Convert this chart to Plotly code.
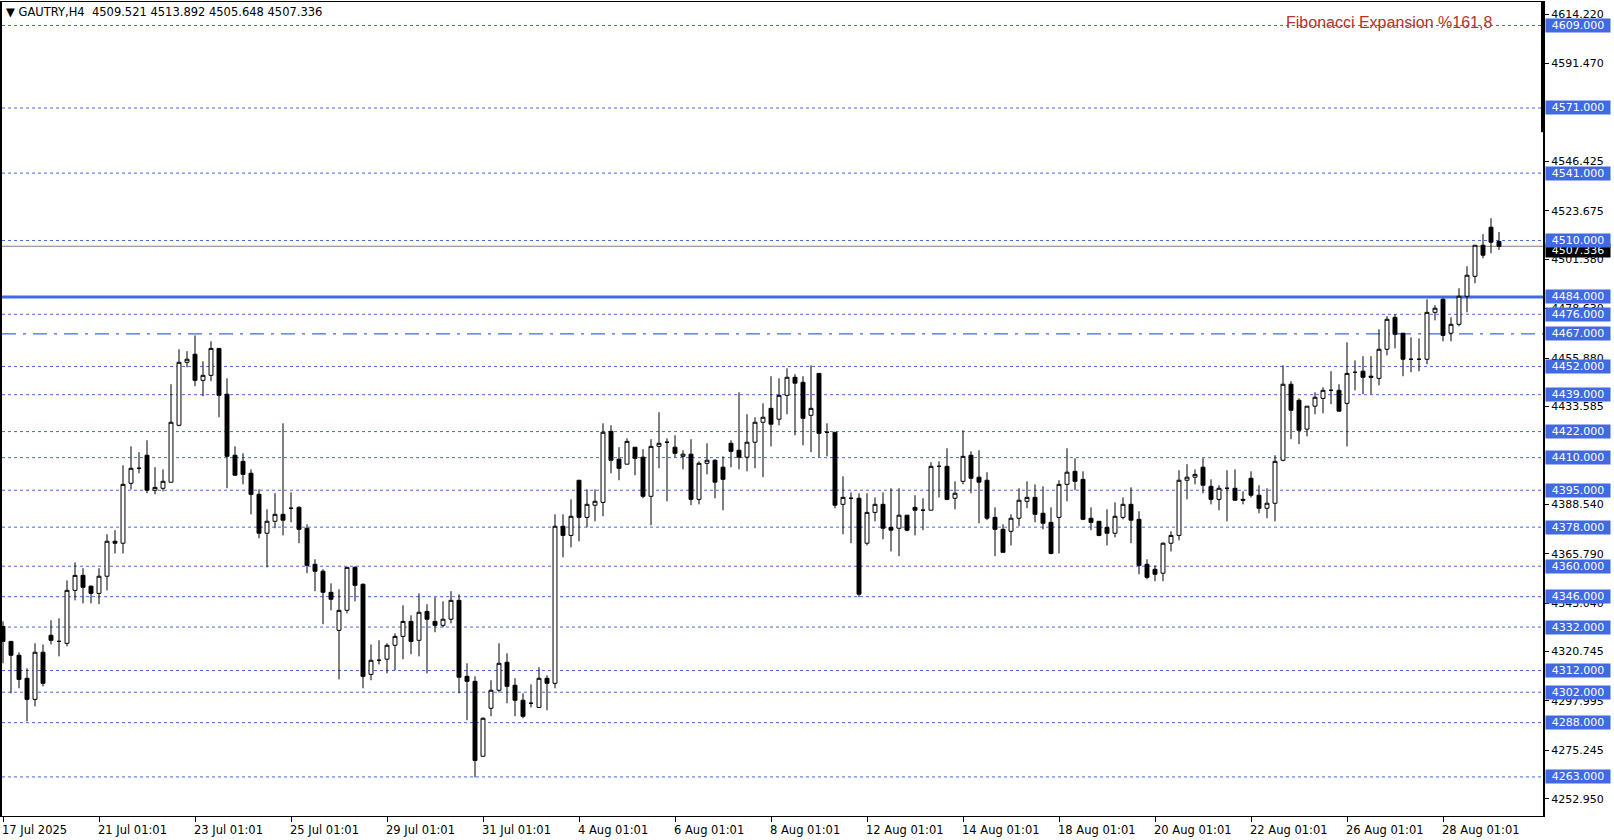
import plotly.graph_objects as go

symbol = "GAUTRY,H4"
opens = [4332.3,4325.4,4319.0,4308.4,4298.7,4320.4,4328.2,4325.4,4324.5,4348.9,4355.8,4350.8,4347.5,4355.4,4371.5,4370.6,4398.2,4405.1,4411.1,4395.0,
4395.9,4398.7,4424.9,4453.9,4457.6,4445.6,4447.9,4460.3,4439.2,4411.1,4408.3,4402.8,4393.1,4375.2,4380.7,4383.9,4386.7,4387.1,4377.5,4360.9,
4357.7,4348.0,4330.5,4339.7,4359.5,4351.7,4310.2,4316.7,4317.2,4323.6,4327.7,4334.6,4325.9,4339.2,4334.6,4332.8,4335.6,4344.3,4309.3,4307.0,
4272.5,4294.6,4302.9,4315.8,4305.2,4298.3,4296.9,4295.0,4308.4,4306.1,4378.4,4374.2,4399.6,4382.5,4388.1,4389.4,4422.1,4409.3,4407.0,4414.8,
4410.2,4392.2,4415.2,4417.1,4414.8,4410.6,4411.6,4390.8,4407.4,4408.8,4405.6,4416.6,4413.4,4410.2,4417.1,4426.3,4432.7,4427.7,4438.7,4447.0,
4444.7,4429.5,4448.8,4421.7,4421.7,4388.5,4391.3,4391.3,4370.6,4384.8,4388.5,4377.9,4377.5,4383.5,4387.1,4385.8,4385.8,4406.0,4406.0,4391.3,
4399.1,4411.1,4401.0,4399.6,4382.5,4377.0,4376.1,4382.1,4389.9,4391.7,4384.4,4380.2,4382.5,4397.7,4403.7,4400.0,4382.1,4380.7,4377.9,4375.2,
4382.5,4388.5,4381.6,4360.9,4358.6,4356.8,4370.6,4374.2,4399.6,4401.0,4405.6,4396.8,4390.8,4395.9,4395.9,4390.8,4400.5,4392.7,4386.7,4389.0,
4408.8,4443.8,4436.4,4423.1,4433.7,4437.3,4441.0,4441.0,4435.0,4449.3,4449.8,4447.5,4446.5,4459.9,4474.6,4467.3,4455.3,4455.3,4455.3,4476.9,
4482.9,4467.3,4471.4,4484.3,4493.5,4507.8,4516.1,4509.521]
highs = [4334.6,4325.4,4320.4,4313.0,4324.5,4324.0,4335.1,4336.0,4353.5,4361.8,4359.1,4351.2,4359.1,4374.7,4376.6,4406.5,4415.2,4412.5,4418.0,4405.6,
4404.6,4443.8,4459.9,4459.0,4466.3,4454.4,4463.6,4460.3,4446.5,4415.2,4412.0,4404.6,4395.4,4386.2,4393.6,4425.8,4394.0,4387.6,4379.3,4363.2,
4358.6,4352.1,4349.4,4359.5,4360.0,4352.1,4324.0,4325.9,4324.5,4329.1,4342.0,4337.4,4347.5,4342.5,4345.7,4343.85,4348.5,4347.1,4315.3,4309.3,
4290.4,4307.5,4324.5,4319.9,4308.4,4301.5,4305.6,4313.5,4309.8,4383.9,4383.9,4390.8,4399.6,4395.4,4395.4,4425.8,4424.9,4414.8,4418.9,4414.8,
4413.9,4418.5,4430.9,4418.9,4420.3,4413.4,4418.5,4408.3,4416.6,4409.3,4410.6,4418.0,4440.1,4430.0,4428.6,4435.0,4447.5,4446.5,4451.1,4448.4,
4447.5,4452.5,4448.8,4425.8,4421.7,4401.4,4394.0,4393.6,4393.6,4391.7,4394.0,4395.9,4395.9,4383.5,4392.7,4391.3,4407.9,4408.3,4414.3,4399.1,
4422.6,4412.9,4413.4,4403.3,4387.1,4379.3,4383.9,4395.9,4399.1,4397.7,4396.8,4387.1,4399.6,4414.3,4409.7,4403.7,4387.1,4380.7,4386.2,4389.4,
4391.7,4396.3,4385.3,4363.2,4360.4,4371.0,4376.1,4404.2,4407.0,4404.6,4409.7,4400.0,4397.3,4404.2,4404.6,4394.5,4403.7,4397.3,4395.9,4411.1,
4452.5,4445.2,4437.3,4433.7,4440.1,4442.4,4449.8,4443.8,4463.1,4454.8,4456.7,4456.7,4469.1,4475.1,4476.0,4467.3,4465.4,4464.9,4482.9,4480.2,
4483.4,4474.6,4488.0,4498.1,4507.8,4512.9,4520.2,4513.892]
lows = [4315.3,4301.5,4303.8,4288.6,4295.5,4304.7,4324.0,4318.5,4323.1,4344.3,4342.9,4342.9,4342.5,4348.9,4365.9,4365.9,4395.4,4402.8,4393.6,4393.1,
4394.5,4398.7,4424.4,4451.6,4442.9,4438.3,4445.2,4428.6,4395.9,4401.9,4397.7,4383.9,4372.9,4359.5,4377.5,4374.2,4380.2,4370.6,4356.8,4348.5,
4333.3,4339.7,4307.9,4338.3,4343.85,4303.8,4307.5,4314.8,4310.7,4312.1,4317.2,4319.5,4318.5,4310.7,4329.6,4331.9,4333.7,4301.5,4289.1,4262.8,
4272.5,4290.9,4301.9,4296.9,4290.9,4290.0,4295.0,4295.0,4293.7,4303.8,4364.1,4368.7,4371.5,4377.9,4380.7,4383.0,4402.8,4399.6,4407.0,4401.9,
4391.3,4378.9,4405.1,4389.9,4410.2,4404.6,4388.1,4388.5,4402.3,4391.3,4385.8,4405.6,4404.6,4403.7,4405.1,4401.0,4415.2,4424.9,4430.0,4420.3,
4415.7,4412.5,4410.2,4410.6,4386.7,4374.7,4370.6,4345.7,4369.6,4380.7,4372.4,4366.8,4364.6,4376.1,4374.2,4376.6,4385.8,4391.7,4390.4,4386.2,
4397.7,4393.6,4379.8,4381.2,4364.6,4366.4,4369.6,4378.4,4386.7,4380.2,4377.0,4365.5,4365.9,4389.9,4395.0,4381.2,4376.6,4373.8,4369.6,4373.3,
4381.6,4370.6,4356.3,4354.0,4353.1,4353.1,4366.8,4371.9,4390.8,4397.7,4393.6,4388.5,4385.8,4380.7,4390.4,4388.5,4391.7,4384.4,4382.1,4380.7,
4408.3,4418.5,4416.2,4419.8,4430.0,4430.4,4434.6,4431.4,4415.2,4441.0,4439.2,4439.2,4443.3,4457.1,4460.3,4447.5,4449.3,4449.8,4453.0,4473.2,
4463.6,4463.6,4470.5,4476.9,4490.3,4501.8,4504.1,4505.648]
closes = [4325.4,4319.0,4307.9,4298.7,4320.4,4306.1,4325.9,4325.4,4348.9,4355.8,4350.3,4347.5,4355.4,4371.5,4370.6,4397.7,4405.1,4405.1,4395.0,4396.3,
4399.1,4426.3,4453.9,4455.3,4445.6,4447.9,4460.3,4438.7,4410.6,4401.9,4402.3,4393.1,4375.2,4380.7,4383.9,4381.2,4386.7,4377.0,4360.4,4357.7,
4348.0,4344.8,4339.7,4359.5,4351.2,4309.3,4316.7,4316.7,4323.6,4327.7,4334.6,4325.4,4338.8,4335.6,4332.8,4335.6,4344.3,4308.9,4307.0,4270.6,
4290.0,4302.9,4315.3,4304.7,4298.3,4290.9,4296.9,4308.4,4306.1,4378.4,4374.2,4383.0,4382.5,4388.5,4389.9,4421.7,4408.8,4405.1,4417.5,4409.7,
4392.2,4415.2,4416.6,4417.1,4412.0,4411.6,4390.8,4407.4,4408.8,4398.7,4400.0,4412.9,4410.2,4417.1,4426.3,4428.6,4425.4,4438.7,4447.0,4444.3,
4428.1,4432.7,4421.2,4421.7,4388.1,4391.7,4391.3,4347.1,4384.8,4388.5,4377.5,4376.6,4383.5,4376.6,4385.8,4385.8,4406.0,4406.0,4390.8,4393.6,
4410.6,4400.5,4398.7,4382.1,4377.0,4366.4,4382.1,4390.4,4391.7,4383.9,4379.8,4365.9,4397.7,4403.3,4399.1,4381.6,4380.2,4374.2,4375.2,4383.0,
4388.5,4381.2,4360.4,4354.9,4356.3,4370.6,4374.2,4399.6,4401.0,4402.3,4397.3,4390.8,4395.9,4395.9,4390.4,4390.4,4392.7,4386.7,4389.0,4408.3,
4443.8,4431.8,4422.6,4433.7,4437.8,4441.0,4441.0,4431.4,4448.8,4449.3,4447.0,4447.0,4459.9,4473.7,4466.8,4455.3,4455.3,4455.3,4476.9,4478.8,
4466.3,4471.4,4484.3,4494.0,4507.8,4503.2,4509.2,4507.336]

date_labels = ["17 Jul 2025","21 Jul 01:01","23 Jul 01:01","25 Jul 01:01","29 Jul 01:01","31 Jul 01:01",
               "4 Aug 01:01","6 Aug 01:01","8 Aug 01:01","12 Aug 01:01","14 Aug 01:01","18 Aug 01:01",
               "20 Aug 01:01","22 Aug 01:01","26 Aug 01:01","28 Aug 01:01"]
label_step = 12
dashed_levels = [4609,4571,4541,4510,4476,4452,4439,4422,4410,4395,4378,4360,4346,4332,4312,4302,4288,4263]
solid_level = 4484
dashdot_level = 4467
axis_ticks = [4614.220,4591.470,4546.425,4523.675,4501.380,4478.630,4455.880,4433.585,4388.540,4365.790,4343.040,4320.745,4297.995,4275.245,4252.950]
fib_text = "Fibonacci Expansion %161,8"

n = len(closes)
idx = list(range(n))
BLUE = "#4169E1"
FONT = "DejaVu Sans"
Y_RANGE = [4245.0, 4619.8]

fig = go.Figure(go.Candlestick(
    x=idx, open=opens, high=highs, low=lows, close=closes,
    increasing=dict(line=dict(color="black", width=1), fillcolor="white"),
    decreasing=dict(line=dict(color="black", width=1), fillcolor="black"),
    whiskerwidth=0, showlegend=False, hoverinfo="skip"))

shapes = []
for lv in dashed_levels:
    shapes.append(dict(type="line", xref="paper", x0=0, x1=1, yref="y", y0=lv, y1=lv,
                       line=dict(color=BLUE, width=1, dash="3px,3px"), layer="below"))
shapes.append(dict(type="line", xref="paper", x0=0, x1=1, yref="y", y0=dashdot_level, y1=dashdot_level,
                   line=dict(color=BLUE, width=1.3, dash="14px,7px,3px,7px"), layer="below"))
shapes.append(dict(type="line", xref="paper", x0=0, x1=1, yref="y", y0=solid_level, y1=solid_level,
                   line=dict(color=BLUE, width=3), layer="below"))
shapes.append(dict(type="line", xref="paper", x0=0, x1=1, yref="y", y0=closes[-1], y1=closes[-1],
                   line=dict(color="#808080", width=1), layer="below"))
shapes.append(dict(type="line", xref="paper", x0=1, x1=1, yref="paper", y0=1, y1=0.84,
                   line=dict(color="black", width=4)))
fig.update_layout(shapes=shapes)

ann = []
ann.append(dict(xref="paper", yref="y", x=1, y=closes[-1], xanchor="left", xshift=2, yshift=-4,
                text=f"{closes[-1]:.3f}", showarrow=False, bgcolor="black", width=64,
                font=dict(family=FONT, size=11, color="white"), borderpad=0))
for lv in sorted(dashed_levels + [solid_level, dashdot_level], reverse=True):
    ann.append(dict(xref="paper", yref="y", x=1, y=lv, xanchor="left", xshift=2,
                    text=f"{lv:.3f}", showarrow=False, bgcolor=BLUE, width=64,
                    font=dict(family=FONT, size=11, color="white"), borderpad=0))
for i, lab in enumerate(date_labels):
    ann.append(dict(xref="x", yref="paper", x=i * label_step, y=0, yanchor="top", xanchor="left",
                    xshift=-3, yshift=-5, text=lab, showarrow=False,
                    font=dict(family=FONT, size=11.5, color="black")))
ann.append(dict(xref="paper", yref="paper", x=0, y=1, xanchor="left", yanchor="top", xshift=2, yshift=-1,
                text=f"▼ {symbol}  {opens[-1]:.3f} {highs[-1]:.3f} {lows[-1]:.3f} {closes[-1]:.3f}",
                showarrow=False, font=dict(family=FONT, size=11.5, color="black")))
ann.append(dict(xref="paper", yref="y", x=0.968, y=4609, xanchor="right", yanchor="middle", yshift=3,
                text=fib_text, showarrow=False, font=dict(family="Liberation Sans", size=16, color="#B5342C")))
fig.update_layout(annotations=ann)

fig.update_layout(
    width=1614, height=840, margin=dict(l=2, r=71, t=2, b=24, autoexpand=False),
    paper_bgcolor="white", plot_bgcolor="white",
    xaxis=dict(range=[-0.125, 192.5], showgrid=False, zeroline=False, rangeslider=dict(visible=False),
               tickvals=[i * label_step for i in range(len(date_labels))], showticklabels=False,
               ticks="outside", ticklen=5, tickcolor="black",
               showline=True, linecolor="black", linewidth=1, mirror=True),
    yaxis=dict(range=Y_RANGE, side="right", showgrid=False, zeroline=False,
               tickvals=axis_ticks, ticktext=[f"{v:.3f}" for v in axis_ticks],
               ticks="outside", ticklen=4, tickcolor="black",
               tickfont=dict(family=FONT, size=11, color="black"),
               showline=True, linecolor="black", linewidth=2, mirror=True),
)
fig.write_html("out.html", config={"displayModeBar": False},
               post_script="document.body.style.margin='0';document.body.style.overflow='hidden';")
